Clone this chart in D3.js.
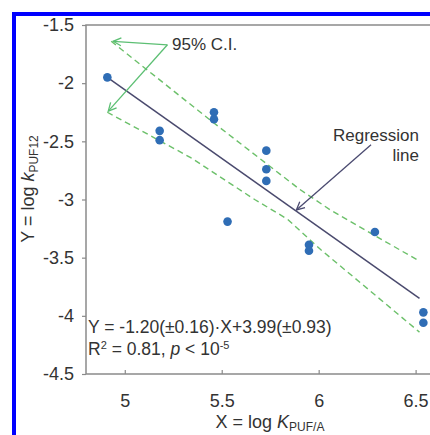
<!DOCTYPE html>
<html>
<head>
<meta charset="utf-8">
<script src="https://cdn.jsdelivr.net/npm/d3@7"></script>
<style>
  body { margin: 0; background: #fff; }
  svg text { font-family: "Liberation Sans", Arial, sans-serif; fill: #333; }
</style>
</head>
<body>
<svg id="chart" width="430" height="435"></svg>
<script>
// measured points
const pointX = [4.91, 5.18, 5.18, 5.46, 5.46, 5.73, 5.73, 5.73, 5.53, 5.95, 5.95, 6.29, 6.54, 6.54];
const pointY = [-1.95, -2.41, -2.49, -2.25, -2.31, -2.58, -2.74, -2.84, -3.19, -3.39, -3.44, -3.28, -3.97, -4.06];

// regression line end points
const regX = [4.91, 6.52];
const regY = [-1.95, -3.85];

// 95% confidence band
const upperX = [4.93, 5.45, 5.90, 6.06, 6.52];
const upperY = [-1.64, -2.33, -2.91, -3.09, -3.53];
const lowerX = [4.91, 5.34, 5.67, 5.84, 6.01, 6.52];
const lowerY = [-2.25, -2.64, -3.00, -3.17, -3.43, -4.14];

const xTicks = [5, 5.5, 6, 6.5];
const yTicks = [-1.5, -2, -2.5, -3, -3.5, -4, -4.5];

const svg = d3.select("#chart");

const x = d3.scaleLinear().domain([4.8, 6.6]).range([86, 435]);
const y = d3.scaleLinear().domain([-4.5, -1.5]).range([374, 25]);

// blue frame of the figure
svg.append("rect").attr("x", 12).attr("y", 12).attr("width", 4).attr("height", 430).attr("fill", "#0000ff");
svg.append("rect").attr("x", 12).attr("y", 12).attr("width", 430).attr("height", 4).attr("fill", "#0000ff");

// plot box
svg.append("rect")
    .attr("x", x(4.8)).attr("y", y(-1.5))
    .attr("width", x(6.6) - x(4.8)).attr("height", y(-4.5) - y(-1.5))
    .attr("fill", "none").attr("stroke", "#8a8a8a").attr("stroke-width", 1.5);

// axes (plain hyphen for negatives, like the original)
const fmt = d => String(d);
const xAxis = svg.append("g")
    .attr("transform", "translate(0," + y(-4.5) + ")")
    .call(d3.axisBottom(x).tickValues(xTicks).tickSize(-4).tickPadding(20).tickFormat(fmt));
const yAxis = svg.append("g")
    .attr("transform", "translate(" + x(4.8) + ",0)")
    .call(d3.axisLeft(y).tickValues(yTicks).tickSize(4).tickPadding(8).tickFormat(fmt));

[xAxis, yAxis].forEach(function (g) {
    g.select(".domain").remove();
    g.selectAll(".tick line").attr("stroke", "#8a8a8a").attr("stroke-width", 1.2);
    g.selectAll(".tick text").style("font-size", "18px").attr("fill", "#333");
});

// arrow heads
const defs = svg.append("defs");
function addMarker(id, color) {
    defs.append("marker")
        .attr("id", id)
        .attr("viewBox", "0 0 10 10")
        .attr("refX", 9).attr("refY", 5)
        .attr("markerWidth", 10).attr("markerHeight", 10)
        .attr("markerUnits", "userSpaceOnUse")
        .attr("orient", "auto")
        .append("path")
        .attr("d", "M1,1 L9,5 L1,9")
        .attr("fill", "none").attr("stroke", color).attr("stroke-width", 1.3);
}
addMarker("greenHead", "#5cbf73");
addMarker("darkHead", "#4a4a70");

const line = d3.line().x(d => x(d[0])).y(d => y(d[1]));

// confidence band (dashed)
[[upperX, upperY], [lowerX, lowerY]].forEach(function (band) {
    svg.append("path")
        .datum(band[0].map((v, i) => [v, band[1][i]]))
        .attr("d", line)
        .attr("fill", "none")
        .attr("stroke", "#6cc06a")
        .attr("stroke-width", 1.4)
        .attr("stroke-dasharray", "6,4");
});

// regression line
svg.append("path")
    .datum(regX.map((v, i) => [v, regY[i]]))
    .attr("d", line)
    .attr("fill", "none")
    .attr("stroke", "#4a4a6e")
    .attr("stroke-width", 1.5);

// points
svg.append("g").selectAll("circle")
    .data(pointX.map((v, i) => [v, pointY[i]]))
    .join("circle")
    .attr("cx", d => x(d[0]))
    .attr("cy", d => y(d[1]))
    .attr("r", 4.3)
    .attr("fill", "#2f6db5");

// annotation arrows (data units)
const ciFrom = [5.22, -1.67];
const ciTips = [[4.94, -1.64], [4.915, -2.24]];
ciTips.forEach(function (tip) {
    svg.append("line")
        .attr("x1", x(ciFrom[0])).attr("y1", y(ciFrom[1]))
        .attr("x2", x(tip[0])).attr("y2", y(tip[1]))
        .attr("stroke", "#5cbf73").attr("stroke-width", 1.3)
        .attr("marker-end", "url(#greenHead)");
});

const regFrom = [6.27, -2.53];
const regTip = [5.885, -3.09];
svg.append("line")
    .attr("x1", x(regFrom[0])).attr("y1", y(regFrom[1]))
    .attr("x2", x(regTip[0])).attr("y2", y(regTip[1]))
    .attr("stroke", "#4a4a70").attr("stroke-width", 1.3)
    .attr("marker-end", "url(#darkHead)");

// labels
svg.append("text").attr("x", 172).attr("y", 50).style("font-size", "17px").text("95% C.I.");

svg.append("text").attr("x", 419).attr("y", 141).attr("text-anchor", "end")
    .style("font-size", "17px").text("Regression");
svg.append("text").attr("x", 419).attr("y", 161).attr("text-anchor", "end")
    .style("font-size", "17px").text("line");

// equation
svg.append("text").attr("x", 88).attr("y", 333).style("font-size", "17.5px")
    .text("Y = -1.20(\u00b10.16)\u00b7X+3.99(\u00b10.93)");

const r2 = svg.append("text").attr("x", 88).attr("y", 355).style("font-size", "17.5px");
r2.append("tspan").text("R");
r2.append("tspan").attr("dy", -6).style("font-size", "11px").text("2");
r2.append("tspan").attr("dy", 6).text(" = 0.81, ");
r2.append("tspan").style("font-style", "italic").text("p");
r2.append("tspan").text(" < 10");
r2.append("tspan").attr("dy", -6).style("font-size", "11px").text("-5");

// axis titles
const xt = svg.append("text").attr("x", 270).attr("y", 428).attr("text-anchor", "middle").style("font-size", "18px");
xt.append("tspan").text("X = log ");
xt.append("tspan").style("font-style", "italic").text("K");
xt.append("tspan").attr("dy", 3).style("font-size", "12px").text("PUF/A");

const yt = svg.append("text")
    .attr("transform", "translate(34,189) rotate(-90)")
    .attr("text-anchor", "middle").style("font-size", "18px");
yt.append("tspan").text("Y = log ");
yt.append("tspan").style("font-style", "italic").text("k");
yt.append("tspan").attr("dy", 4).style("font-size", "12px").text("PUF12");
</script>
</body>
</html>
